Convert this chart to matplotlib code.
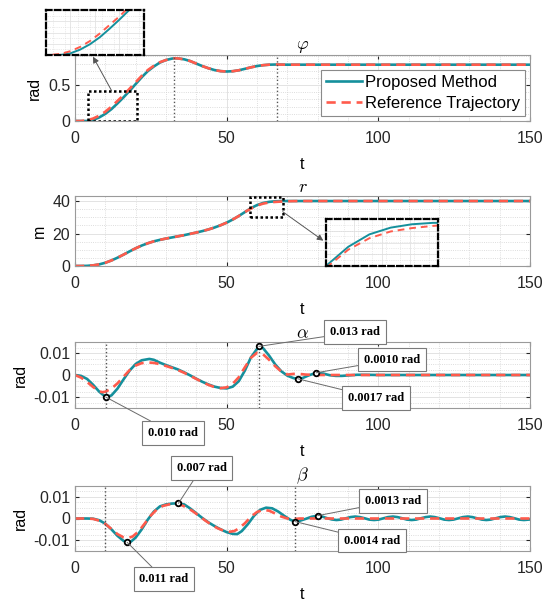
import numpy as np
import matplotlib
matplotlib.use('Agg')
import matplotlib.pyplot as plt
from matplotlib.patches import Rectangle
from matplotlib.ticker import MultipleLocator

plt.rcParams['font.family'] = 'Liberation Sans'
plt.rcParams['mathtext.fontset'] = 'cm'
plt.rcParams['axes.unicode_minus'] = False

# ---------------- data ----------------
# phi (rad)
phi_t = [0, 2, 4, 6, 8, 10, 12, 14, 16, 18, 20, 22, 24, 26, 28, 30, 32, 33, 34,
         36, 38, 40, 42, 44, 46, 48, 50, 52, 54, 56, 58, 60, 62, 64, 66, 68, 70, 150]
phi_ref = [0, 0, 0.01, 0.035, 0.075, 0.13, 0.2, 0.28, 0.36, 0.45, 0.54, 0.63, 0.71,
           0.77, 0.82, 0.85, 0.87, 0.874, 0.872,
           0.86, 0.835, 0.80, 0.765, 0.735, 0.71, 0.695, 0.69, 0.694, 0.707, 0.727,
           0.748, 0.766, 0.778, 0.785, 0.787, 0.786, 0.785, 0.785]
phi_prop = [0, 0, 0, 0.015, 0.05, 0.10, 0.165, 0.245, 0.33, 0.42, 0.515, 0.61, 0.695,
            0.76, 0.815, 0.85, 0.87, 0.874, 0.872,
            0.86, 0.835, 0.80, 0.765, 0.735, 0.71, 0.695, 0.69, 0.694, 0.707, 0.727,
            0.748, 0.766, 0.778, 0.785, 0.787, 0.786, 0.785, 0.785]

# r (m)
r_t = [0, 2, 4, 6, 8, 10, 12, 14, 16, 18, 20, 22, 24, 26, 28, 30, 32, 34, 36, 38,
       40, 42, 44, 46, 48, 50, 52, 54, 56, 58, 60, 62, 64, 66, 68, 70, 72, 74, 150]
r_prop = [0, 0, 0.1, 0.4, 1.0, 2.0, 3.4, 5.1, 7.0, 9.0, 10.9, 12.6, 14.0, 15.2, 16.1,
          16.9, 17.6, 18.3, 19.0, 19.8, 20.6, 21.5, 22.5, 23.7, 25.1, 26.7, 28.6,
          30.8, 33.2, 35.6, 37.5, 38.8, 39.5, 39.85, 40.0, 40.0, 40.0, 40.0, 40.0]
r_ref = [0, 0, 0.1, 0.4, 1.0, 2.0, 3.4, 5.1, 7.0, 9.0, 10.9, 12.6, 14.0, 15.2, 16.1,
         16.9, 17.6, 18.3, 19.0, 19.8, 20.6, 21.5, 22.5, 23.7, 25.1, 26.7, 28.6,
         30.8, 33.2, 35.4, 37.2, 38.4, 39.1, 39.45, 39.68, 39.85, 39.95, 40.0, 40.0]

# alpha (x 1e-3 rad)
alpha_t_prop = [0, 2, 4, 6, 8, 10.1, 12, 14, 16, 18, 20, 22, 24.5, 26, 28, 30, 32, 34,
                36, 38, 40, 42, 44, 46, 48, 50, 52, 54, 56, 58, 60.6, 62, 64, 66, 68,
                70, 72, 73.4, 75, 77, 79.5, 82, 84, 86, 88, 90, 93, 96, 100, 150]
alpha_prop = [0, -0.4, -1.8, -4.5, -7.6, -10.0, -9.3, -6.2, -2.0, 2.0, 5.0, 6.7, 7.3,
              6.9, 5.6, 4.5, 3.5, 2.5, 1.2, -0.2, -1.7, -3.1, -4.3, -5.3, -5.9, -6.1,
              -5.3, -2.8, 2.0, 8.0, 13.0, 12.2, 8.8, 4.8, 1.7, -0.3, -1.4, -1.7, -1.4,
              -0.2, 1.0, 0.6, -0.1, -0.4, -0.4, -0.2, 0.1, 0.1, 0, 0]
alpha_t_ref = [0, 2, 4, 6, 8, 9, 10, 12, 14, 16, 18, 20, 22, 24, 26, 28, 30, 32, 34,
               36, 38, 40, 42, 44, 46, 48, 50, 52, 54, 56, 58, 60, 62, 64, 66, 68, 70,
               72, 74, 76, 80, 150]
alpha_ref = [0, -1.2, -3.2, -5.5, -7.4, -7.8, -7.6, -6.2, -3.8, -0.8, 2.2, 4.3, 5.4,
             5.7, 5.5, 4.9, 4.1, 3.2, 2.2, 1.0, -0.4, -1.8, -3.2, -4.5, -5.5, -6.0,
             -5.6, -4.0, -1.0, 3.5, 7.8, 10.1, 9.4, 6.9, 4.0, 1.6, 0.2, 0.5, 0.5, 0.2,
             0, 0]

# beta (x 1e-3 rad)
beta_t_prop = [0, 2, 4, 6, 8, 10, 12, 14, 16, 17.2, 18.5, 20, 22, 24, 26, 28, 30, 32,
               34.1, 36, 38, 40, 42, 44, 46, 48, 50, 52, 53.5, 55, 57, 59, 61, 63, 65,
               67, 69, 71, 72.5, 74, 76, 78, 80,
               81.6, 83.1, 84.7, 86.2, 87.7, 89.3, 90.8, 92.4, 93.9, 95.5, 97.0, 98.6,
               100.1, 101.7, 103.2, 104.8, 106.3, 107.9, 109.4, 111.0, 112.5, 114.0,
               115.6, 117.1, 118.6, 120.2, 121.7, 123.3, 124.8, 126.4, 127.9, 129.5,
               131.0, 132.5, 134.1, 135.6, 137.1, 138.7, 140.2, 141.8, 143.3, 144.9,
               146.4, 148.0, 150]
beta_prop = [0, 0, 0, -0.1, -0.8, -2.4, -5.0, -8.0, -10.3, -11.0, -10.6, -8.8, -5.0,
             -0.5, 3.2, 5.6, 6.5, 6.9, 7.0, 6.5, 4.6, 2.4, 0.2, -1.8, -3.5, -5.0, -6.3,
             -7.1, -7.2, -5.8, -2.6, 1.2, 4.0, 5.0, 4.7, 3.2, 1.2, -0.6, -1.4, -1.1,
             -0.2, 0.8, 1.3,
             0.85, 0.15, -0.45, -0.7, -0.5, 0.1, 0.65, 0.9, 0.65, 0.1, -0.5, -0.7,
             -0.5, 0.1, 0.65, 0.9, 0.65, 0.1, -0.5, -0.7, -0.5, 0.1,
             0.65, 0.9, 0.65, 0.1, -0.5, -0.7, -0.5, 0.1, 0.65, 0.9,
             0.65, 0.1, -0.5, -0.7, -0.5, 0.1, 0.65, 0.9, 0.65, 0.1,
             -0.5, -0.7, -0.45]
beta_t_ref = [0, 2, 4, 6, 8, 10, 12, 14, 16, 17.5, 19, 21, 23, 25, 27, 29, 31, 33, 35,
              37, 39, 41, 43, 45, 47, 49, 51, 52.5, 54, 56, 58, 60, 62, 64, 66, 68, 70,
              72, 74, 150]
beta_ref = [0, 0, 0, -0.2, -1.0, -2.5, -4.8, -7.2, -8.7, -9.0, -8.3, -5.9, -2.3, 1.4,
            4.2, 5.8, 6.5, 6.6, 6.2, 5.0, 3.2, 1.1, -1.0, -2.9, -4.5, -5.6, -6.1, -5.8,
            -4.6, -2.2, 0.8, 3.0, 4.0, 3.6, 2.3, 0.9, 0.0, -0.3, 0, 0]

# marked points and their labels
alpha_mark_t = [10.1, 60.6, 73.4, 79.5]
alpha_mark_v = [-0.010, 0.013, -0.0017, 0.0010]
alpha_mark_lbl = ['0.010 rad', '0.013 rad', '0.0017 rad', '0.0010 rad']
beta_mark_t = [17.2, 34.1, 72.5, 80]
beta_mark_v = [-0.011, 0.007, -0.0014, 0.0013]
beta_mark_lbl = ['0.011 rad', '0.007 rad', '0.0014 rad', '0.0013 rad']

# vertical dotted markers
phi_vlines = [32.8, 66.7]
alpha_vlines = [10.1, 60.6]
beta_vlines = [10, 72.5]

# ---------------- styling ----------------
W, H = 550, 607
TEAL = '#15909c'
RED = '#ff5b4c'
lw = 1.9
DASH = (0, (3.5, 2.2))

fig = plt.figure(figsize=(W / 100, H / 100), dpi=100)


def px_axes(x0, y0, x1, y1):
    # pixel box (top-left origin) -> figure fraction rect
    return [x0 / W, (H - y1) / H, (x1 - x0) / W, (y1 - y0) / H]


def style(ax, ylim, yticks, ylabels, yminor, title):
    ax.set_xlim(0, 150)
    ax.set_ylim(*ylim)
    ax.set_xticks([0, 50, 100, 150])
    ax.set_xticklabels(['0', '50', '100', '150'])
    ax.set_yticks(yticks)
    ax.set_yticklabels(ylabels)
    ax.xaxis.set_minor_locator(MultipleLocator(10))
    ax.yaxis.set_minor_locator(MultipleLocator(yminor))
    ax.grid(which='major', color='#e3e3e3', lw=0.7, ls='-')
    ax.grid(which='minor', color='#d2d2d2', lw=0.6, ls=':')
    ax.set_axisbelow(True)
    ax.tick_params(which='both', direction='in', top=True, right=True,
                   labelsize=11.5, colors='#262626', length=3)
    ax.tick_params(which='minor', length=0)
    ax.tick_params(axis='x', pad=7)
    for s in ax.spines.values():
        s.set_color('#9a9a9a')
        s.set_linewidth(0.8)
    ax.set_xlabel('t', fontsize=11.5, labelpad=8)
    ax.set_title(title, fontsize=13, pad=2)


def arrow(x0, y0, x1, y1):
    fig.add_artist(matplotlib.patches.FancyArrowPatch(
        (x0, H - y0), (x1, H - y1), transform=None, arrowstyle='-|>',
        mutation_scale=9, color='#555555', lw=0.7, shrinkA=0, shrinkB=0))


def zoom_inset(rect, xlim, ylim, t, prop, ref):
    ins = fig.add_axes(rect)
    ins.plot(t, prop, color=TEAL, lw=1.4)
    ins.plot(t, ref, color=RED, lw=1.4, ls=(0, (3.5, 2.5)))
    ins.set_xlim(*xlim)
    ins.set_ylim(*ylim)
    ins.set_xticks(np.linspace(xlim[0], xlim[1], 5)[1:-1])
    ins.set_yticks(np.linspace(ylim[0], ylim[1], 5)[1:-1])
    ins.xaxis.set_minor_locator(MultipleLocator((xlim[1] - xlim[0]) / 8))
    ins.yaxis.set_minor_locator(MultipleLocator((ylim[1] - ylim[0]) / 8))
    ins.grid(which='major', color='#e3e3e3', lw=0.6)
    ins.grid(which='minor', color='#d8d8d8', lw=0.5, ls=':')
    ins.tick_params(which='both', length=0, labelbottom=False, labelleft=False)
    for s in ins.spines.values():
        s.set_color('black')
        s.set_linewidth(1.6)
        s.set_linestyle((0, (2.5, 1.5)))
    return ins


# ---------------- panel 1: phi ----------------
ax1 = fig.add_axes(px_axes(75, 55, 530, 121))
l1, = ax1.plot(phi_t, phi_prop, color=TEAL, lw=lw, label='Proposed Method')
l2, = ax1.plot(phi_t, phi_ref, color=RED, lw=lw, ls=DASH,
               label='Reference Trajectory')
for v in phi_vlines:
    ax1.axvline(v, color='#555555', ls=':', lw=1)
style(ax1, (0, 0.92), [0, 0.5], ['0', '0.5'], 0.1, r'$\varphi$')
ax1.set_ylabel('rad', fontsize=11.5)
leg = ax1.legend(loc='lower right', fontsize=12, handlelength=2.2,
                 handletextpad=0.15, borderaxespad=0.3, labelspacing=0.35,
                 fancybox=False, framealpha=1, borderpad=0.3)
leg.get_frame().set_edgecolor('#8a8a8a')
leg.get_frame().set_linewidth(0.8)
ax1.add_patch(Rectangle((4.2, 0.0), 16.2, 0.42, fill=False, ec='black',
                        lw=1.8, ls=(0, (1, 1)), zorder=5))
zoom_inset(px_axes(45.6, 10, 144, 55), (1, 21), (0, 0.42),
           phi_t, phi_prop, phi_ref)
arrow(111.6, 90.7, 93, 56.7)

# ---------------- panel 2: r ----------------
ax2 = fig.add_axes(px_axes(75, 196, 530, 266))
ax2.plot(r_t, r_prop, color=TEAL, lw=lw)
ax2.plot(r_t, r_ref, color=RED, lw=lw, ls=DASH)
style(ax2, (0, 43.1), [0, 20, 40], ['0', '20', '40'], 5, r'$r$')
ax2.set_ylabel('m', fontsize=11.5)
ax2.add_patch(Rectangle((57.7, 30.2), 10.8, 12.4, fill=False, ec='black',
                        lw=1.8, ls=(0, (1, 1)), zorder=5))
zoom_inset(px_axes(326, 219, 438.3, 266), (57.9, 68.5), (35.5, 40.4),
           r_t, r_prop, r_ref)
arrow(282.7, 211.7, 323.3, 240.7)


# ---------------- panels 3/4: alpha, beta ----------------
def angle_panel(rect, tp, vp, tr, vr, vlines, mt, mv, lbls, boxes, title):
    ax = fig.add_axes(px_axes(*rect))
    ax.plot(tp, np.array(vp) * 1e-3, color=TEAL, lw=lw)
    ax.plot(tr, np.array(vr) * 1e-3, color=RED, lw=lw, ls=DASH)
    for v in vlines:
        ax.axvline(v, color='#555555', ls=':', lw=1)
    style(ax, (-0.015, 0.015), [-0.01, 0, 0.01], ['-0.01', '0', '0.01'],
          0.0025, title)
    ax.set_ylabel('rad', fontsize=11.5)
    ax.plot(mt, mv, 'o', ms=4, mfc='white', mec='black', mew=1.3, zorder=6)
    for x, y, s, (bx, by) in zip(mt, mv, lbls, boxes):
        ax.annotate(s, xy=(x, y), xycoords='data', xytext=(bx, H - by),
                    textcoords='figure pixels', ha='center', va='center',
                    fontsize=9, fontweight='bold', family='Liberation Serif',
                    bbox=dict(boxstyle='square,pad=0.45', fc='white',
                              ec='#7a7a7a', lw=0.8),
                    arrowprops=dict(arrowstyle='-', color='#6a6a6a', lw=0.7,
                                    shrinkA=0, shrinkB=0),
                    zorder=7)
    return ax


angle_panel((75, 342, 530, 408), alpha_t_prop, alpha_prop, alpha_t_ref, alpha_ref,
            alpha_vlines, alpha_mark_t, alpha_mark_v, alpha_mark_lbl,
            [(173, 433), (355, 332), (376, 398), (392, 359.7)], r'$\alpha$')
angle_panel((75, 486, 530, 551), beta_t_prop, beta_prop, beta_t_ref, beta_ref,
            beta_vlines, beta_mark_t, beta_mark_v, beta_mark_lbl,
            [(164, 579), (201.5, 468), (372, 540.5), (393, 501)], r'$\beta$')

fig.savefig('out.png', dpi=100, facecolor='white')
